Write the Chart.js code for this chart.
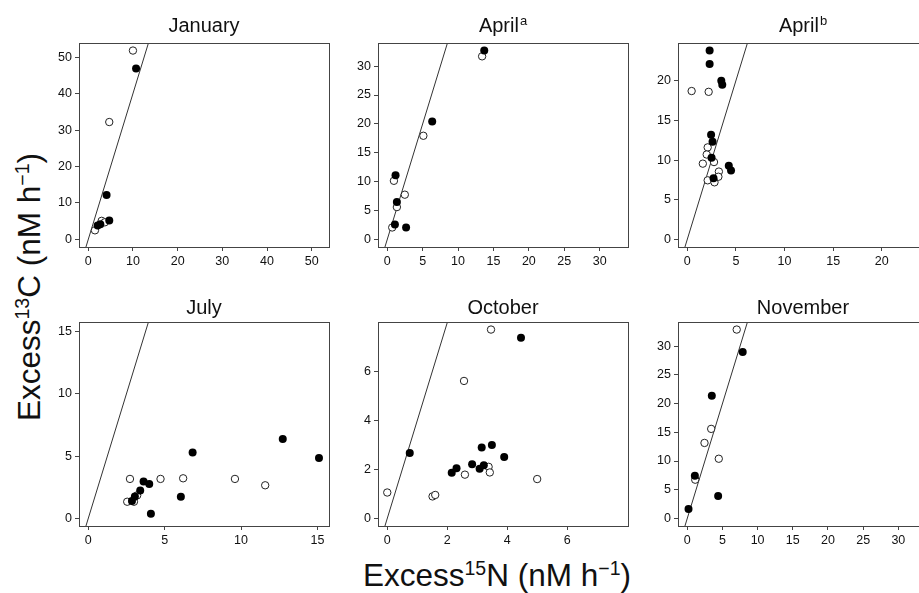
<!DOCTYPE html>
<html><head><meta charset="utf-8">
<script src="https://cdn.jsdelivr.net/npm/chart.js@4.4.1/dist/chart.umd.min.js"></script>
<style>
html,body{margin:0;padding:0;background:#fff;overflow:hidden;width:919px;height:593px;}
body{position:relative;font-family:"Liberation Sans",Arial,sans-serif;}
canvas{position:absolute;}
.axlab{position:absolute;white-space:nowrap;font-size:31.5px;line-height:31px;color:#111;}
.axlab sup{font-size:0.62em;line-height:0;vertical-align:0.55em;}
#xlab{left:497px;top:560px;transform:translateX(-50%);}
#ylab{left:29px;top:287px;transform:translate(-50%,-50%) rotate(-90deg);}
</style></head><body>
<div id="xlab" class="axlab">Excess<sup>15</sup>N (nM h<sup>−1</sup>)</div>
<div id="ylab" class="axlab">Excess<sup>13</sup>C (nM h<sup>−1</sup>)</div>
<script>
// ---- data ----
const panelTitles = ['January', 'April', 'April', 'July', 'October', 'November'];
const titleSups   = ['', 'a', 'b', '', '', ''];
const axisLimits  = [51.8, 32.7, 23.8, 15.15, 7.72, 32.9];
const tickLabels  = [
  [0, 10, 20, 30, 40, 50],
  [0, 5, 10, 15, 20, 25, 30],
  [0, 5, 10, 15, 20],
  [0, 5, 10, 15],
  [0, 2, 4, 6],
  [0, 5, 10, 15, 20, 25, 30]
];
const refLineSlope = 4;           // 13C : 15N reference line
const refLineX = [-10, 100];

const janFilled = [[2.1,3.8],[2.7,4.2],[4.7,5.2],[4.1,12.2],[10.7,46.9]];
const janOpen   = [[1.5,2.5],[3.0,5.1],[3.7,4.7],[4.7,32.2],[10.0,51.8]];

const aprAFilled = [[13.7,32.7],[6.35,20.4],[1.17,11.1],[1.36,6.5],[1.08,2.6],[2.66,2.07]];
const aprAOpen   = [[13.4,31.7],[5.1,17.95],[0.94,10.15],[2.48,7.75],[1.36,5.6],[0.7,2.07]];

const aprBFilled = [[2.3,23.8],[2.3,22.1],[3.5,20.0],[3.6,19.5],[2.45,13.2],[2.6,12.3],[2.5,10.3],[4.27,9.3],[4.5,8.7],[2.7,7.7]];
const aprBOpen   = [[0.45,18.7],[2.2,18.6],[2.1,11.6],[2.0,10.7],[2.75,9.75],[1.6,9.55],[3.25,8.55],[3.2,7.9],[2.1,7.45],[2.8,7.2]];

const julFilled = [[2.86,1.40],[3.05,1.77],[3.40,2.25],[3.62,2.97],[3.99,2.76],[4.10,0.38],[6.06,1.74],[6.83,5.28],[12.73,6.38],[15.1,4.85]];
const julOpen   = [[2.55,1.34],[2.99,1.34],[3.2,1.85],[2.73,3.17],[4.73,3.17],[6.21,3.22],[9.6,3.17],[11.58,2.66]];

const octFilled = [[4.46,7.38],[0.75,2.67],[3.15,2.9],[3.49,3.0],[3.9,2.51],[2.83,2.22],[3.22,2.17],[3.08,2.03],[2.31,2.05],[2.15,1.87]];
const octOpen   = [[3.46,7.72],[2.56,5.62],[3.38,2.11],[3.42,1.88],[2.59,1.79],[5.0,1.61],[0.0,1.06],[1.51,0.9],[1.6,0.96]];

const novFilled = [[7.88,29.0],[3.49,21.35],[1.08,7.45],[4.39,3.9],[0.18,1.64]];
const novOpen   = [[7.03,32.9],[3.4,15.6],[2.45,13.15],[4.48,10.4],[1.13,6.75]];

const filledSeries = [janFilled, aprAFilled, aprBFilled, julFilled, octFilled, novFilled];
const openSeries   = [janOpen, aprAOpen, aprBOpen, julOpen, octOpen, novOpen];

// ---- layout ----
const colLeft = [79, 378, 678];
const rowTop = [43, 322];
const areaW = 250, areaH = 204;
const padL = 50, padT = 40, padR = 20, padB = 30;
const titleOffset = [11, 8];

const FONT = '"Liberation Sans", Arial, sans-serif';
const INK = '#444';

const boxPlugin = {
  id: 'box',
  afterDatasetsDraw(chart) {
    const a = chart.chartArea, ctx = chart.ctx;
    ctx.save();
    ctx.strokeStyle = INK; ctx.lineWidth = 1;
    ctx.strokeRect(Math.round(a.left) + 0.5, Math.round(a.top) + 0.5,
                   Math.round(a.right - a.left), Math.round(a.bottom - a.top));
    ctx.restore();
  }
};

const titlePlugin = {
  id: 'supTitle',
  afterDraw(chart, args, opts) {
    const a = chart.chartArea, ctx = chart.ctx;
    ctx.save();
    ctx.fillStyle = '#111';
    ctx.textBaseline = 'alphabetic';
    ctx.font = '20px ' + FONT;
    const wMain = ctx.measureText(opts.text).width;
    ctx.font = '13px ' + FONT;
    const wSup = opts.sup ? ctx.measureText(opts.sup).width + 1 : 0;
    const cx = (a.left + a.right) / 2;
    const x0 = cx - (wMain + wSup) / 2;
    const base = a.top - opts.offset;
    ctx.font = '20px ' + FONT;
    ctx.textAlign = 'left';
    ctx.fillText(opts.text, x0, base);
    if (opts.sup) {
      ctx.font = '13px ' + FONT;
      ctx.fillText(opts.sup, x0 + wMain + 1, base - 7);
    }
    ctx.restore();
  }
};

function toPts(arr) { return arr.map(p => ({x: p[0], y: p[1]})); }

for (let i = 0; i < 6; i++) {
  const col = i % 3, row = Math.floor(i / 3);
  const cv = document.createElement('canvas');
  const W = padL + areaW + padR, H = padT + areaH + padB;
  cv.width = W; cv.height = H;
  cv.style.width = W + 'px'; cv.style.height = H + 'px';
  cv.style.left = (colLeft[col] - padL) + 'px';
  cv.style.top = (rowTop[row] - padT) + 'px';
  document.body.appendChild(cv);

  const L = axisLimits[i];
  const lo = -0.04 * L, hi = 1.04 * L;
  const ticks = tickLabels[i];
  const axisCommon = (fitKey, fitVal) => ({
    type: 'linear', min: lo, max: hi,
    afterBuildTicks: s => { s.ticks = ticks.map(v => ({value: v})); },
    afterFit: s => { s[fitKey] = fitVal; },
    grid: {display: true, drawOnChartArea: false, drawTicks: true, tickLength: 4, color: INK, lineWidth: 1},
    border: {display: false},
    ticks: {color: '#111', font: {family: FONT, size: 12.5}, padding: 3, autoSkip: false, maxRotation: 0,
            callback: v => String(v)}
  });

  new Chart(cv, {
    type: 'scatter',
    data: {
      datasets: [
        {type: 'line', data: refLineX.map(x => ({x: x, y: refLineSlope * x})),
         borderColor: '#333', borderWidth: 1, pointRadius: 0, fill: false, tension: 0, order: 3},
        {data: toPts(openSeries[i]), pointRadius: 3.7, pointBackgroundColor: '#fff',
         pointBorderColor: '#222', pointBorderWidth: 1, order: 2},
        {data: toPts(filledSeries[i]), pointRadius: 4, pointBackgroundColor: '#000',
         pointBorderColor: '#000', pointBorderWidth: 0, order: 1}
      ]
    },
    options: {
      responsive: false, animation: false, devicePixelRatio: 1,
      layout: {padding: {top: padT, right: padR, left: 0, bottom: 0}},
      plugins: {legend: {display: false}, tooltip: {enabled: false},
                supTitle: {text: panelTitles[i], sup: titleSups[i], offset: titleOffset[row]}},
      scales: {
        x: Object.assign(axisCommon('height', padB), {position: 'bottom'}),
        y: Object.assign(axisCommon('width', padL), {position: 'left'})
      }
    },
    plugins: [boxPlugin, titlePlugin]
  });
}
</script>
</body></html>
